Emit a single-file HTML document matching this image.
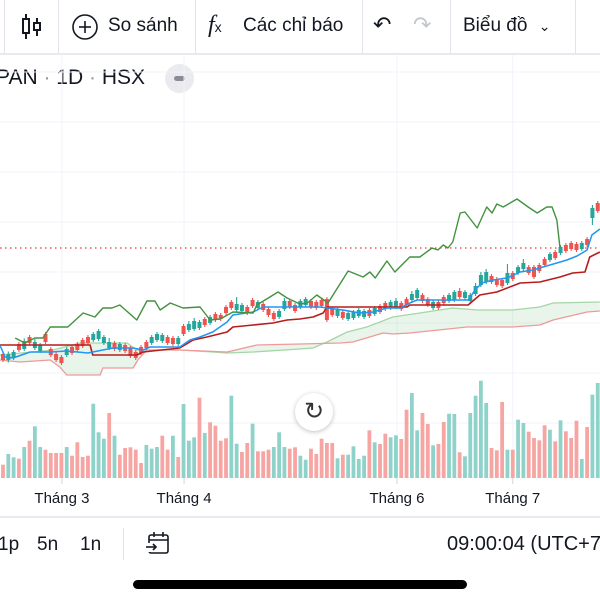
<!DOCTYPE html>
<html><head><meta charset="utf-8">
<style>
body{margin:0;width:600px;height:600px;overflow:hidden;background:#fff;font-family:"Liberation Sans",sans-serif;color:#131722;position:relative}
.abs{position:absolute}
.tb{position:absolute;font-size:19px;top:15px;white-space:nowrap}
.sep{position:absolute;width:1px;background:#e0e3eb}
</style></head><body>
<div class="abs" style="left:0;top:0;width:600px;height:53px;border-bottom:2px solid #e8eaef">
  <div class="sep" style="left:4px;top:0;height:53px"></div>
  <div class="sep" style="left:58px;top:0;height:53px"></div>
  <div class="sep" style="left:195px;top:0;height:53px"></div>
  <div class="sep" style="left:362px;top:0;height:53px"></div>
  <div class="sep" style="left:450px;top:0;height:53px"></div>
  <div class="sep" style="left:575px;top:0;height:53px"></div>
  <svg class="abs" style="left:18px;top:12px" width="28" height="30" viewBox="0 0 28 30">
    <line x1="8" y1="2" x2="8" y2="27" stroke="#131722" stroke-width="2"/><rect x="5" y="7" width="6" height="14" fill="#fff" stroke="#131722" stroke-width="2"/>
    <line x1="19" y1="6" x2="19" y2="24" stroke="#131722" stroke-width="2"/><rect x="16" y="11" width="6" height="7" fill="#fff" stroke="#131722" stroke-width="2"/>
  </svg>
  <svg class="abs" style="left:71px;top:13px" width="28" height="28"><circle cx="14" cy="14" r="12" fill="none" stroke="#131722" stroke-width="1.6"/><line x1="14" y1="8" x2="14" y2="20" stroke="#131722" stroke-width="1.6"/><line x1="8" y1="14" x2="20" y2="14" stroke="#131722" stroke-width="1.6"/></svg>
  <div class="tb" style="left:108px">So sánh</div>
  <div class="tb" style="left:208px;top:12px;font-family:'Liberation Serif',serif;font-style:italic;font-size:24px">f<span style="font-size:14px;font-style:normal;font-family:'Liberation Sans'">x</span></div>
  <div class="tb" style="left:243px">Các chỉ báo</div>
  <div class="tb" style="left:373px;top:12px;font-size:22px">↶</div>
  <div class="tb" style="left:413px;top:12px;font-size:22px;color:#c4c7cf">↷</div>
  <div class="tb" style="left:463px">Biểu đồ <span style="font-size:14px;margin-left:6px">⌄</span></div>
</div>
<div class="abs" style="left:-4px;top:66px;font-size:21px;white-space:nowrap">PAN <span style="color:#999">·</span> 1D <span style="color:#999">·</span> HSX</div>
<div class="abs" style="left:165px;top:64px;width:29px;height:29px;border-radius:50%;background:#ebebef"><div style="position:absolute;left:9px;top:12px;width:11px;height:5px;border-radius:3px;background:#8a8d96"></div></div>

<svg class="abs" style="left:0;top:0" width="600" height="600" id="chart"></svg>

<div class="abs" style="left:295px;top:393px;width:38px;height:38px;border-radius:50%;background:#fff;box-shadow:0 1px 5px rgba(0,0,0,.25);text-align:center;line-height:38px;font-size:24px;color:#333">↻</div>

<div class="abs" style="left:0;top:516px;width:600px;height:2px;background:#e8eaef"></div>
<div class="abs" style="left:-2px;top:534px;font-size:19px">1p</div>
<div class="abs" style="left:37px;top:534px;font-size:19px">5n</div>
<div class="abs" style="left:80px;top:534px;font-size:19px">1n</div>
<div class="sep" style="left:123px;top:528px;height:32px"></div>
<svg class="abs" style="left:145px;top:531px" width="26" height="26"><rect x="4" y="4" width="19" height="18" rx="2" fill="none" stroke="#131722" stroke-width="1.6"/><line x1="4" y1="9" x2="23" y2="9" stroke="#131722" stroke-width="1.6"/><line x1="9" y1="1" x2="9" y2="6" stroke="#131722" stroke-width="1.6"/><line x1="18" y1="1" x2="18" y2="6" stroke="#131722" stroke-width="1.6"/><rect x="0" y="12" width="8" height="9" fill="#fff"/><line x1="1" y1="16" x2="11" y2="16" stroke="#131722" stroke-width="1.6"/><polyline points="8,13 11,16 8,19" fill="none" stroke="#131722" stroke-width="1.6"/></svg>
<div class="abs" style="left:447px;top:533px;font-size:20px;white-space:nowrap">09:00:04 (UTC+7)</div>
<div class="abs" style="left:133px;top:580px;width:334px;height:9px;border-radius:5px;background:#000"></div>

<script>
const opens=[29.2,28.0,28.4,31.2,30.2,32.6,30.4,29.8,33.2,30.2,29.2,28.6,29.0,30.6,31.2,32.0,32.6,32.0,32.2,31.4,30.4,31.4,30.0,31.0,30.4,29.6,30.6,31.6,31.4,32.0,31.8,32.6,32.4,31.2,34.8,34.0,34.2,34.4,36.2,35.4,37.2,37.0,38.6,39.6,38.0,37.8,38.6,40.0,38.4,39.2,38.2,37.4,36.6,38.2,39.8,39.0,38.6,39.0,39.8,39.6,40.0,40.2,38.2,36.8,37.6,36.2,36.4,36.8,36.6,38.0,37.2,38.8,39.4,38.4,38.6,39.4,40.2,40.0,40.4,41.0,40.2,38.4,39.6,40.6,39.8,40.0,41.8,40.4,39.8,41.2,43.0,43.6,44.8,44.2,44.0,43.4,45.4,45.4,46.2,46.6,46.6,47.0,48.2,48.0,49.6,49.4,51.0,51.4,51.2,50.2,52.2,56.4,59.4];
const closes=[28.0,29.2,29.6,30.0,31.8,31.4,31.6,31.0,31.6,29.0,28.0,27.4,30.2,29.4,30.0,30.8,31.4,33.2,33.8,32.6,31.6,30.2,31.2,29.8,28.8,28.4,29.4,30.4,32.6,33.2,33.0,31.4,31.2,32.4,33.2,35.2,35.8,35.6,35.0,36.6,36.0,36.2,37.4,38.4,39.2,39.0,37.4,38.8,39.6,38.0,37.0,36.2,37.8,39.8,38.6,37.8,39.8,40.2,38.6,38.4,38.8,36.0,37.0,38.0,36.4,37.4,37.6,38.0,37.8,36.8,38.4,37.6,38.2,39.6,39.8,38.2,39.0,41.2,42.0,39.8,39.0,39.6,38.4,39.4,41.0,41.6,40.6,41.6,41.0,42.8,45.0,45.6,43.6,43.0,42.8,45.4,44.2,46.6,47.4,45.4,44.6,45.8,47.0,49.2,48.4,50.6,49.8,50.2,50.0,51.4,51.0,58.4,57.8];
const highs=[29.6,29.7,30.0,31.6,32.3,33.0,32.2,31.4,33.6,30.6,29.6,29.0,30.6,31.0,31.6,32.4,33.0,33.6,34.2,33.0,32.4,31.8,31.6,31.4,30.8,30.0,31.0,32.0,33.0,33.6,33.4,33.0,32.8,32.8,35.2,35.8,36.4,36.0,36.6,37.0,37.6,37.4,39.0,40.0,40.6,39.4,39.0,40.4,40.0,39.6,38.6,37.8,38.2,40.4,40.2,39.4,40.2,40.6,40.2,40.0,40.4,40.6,38.6,38.4,38.0,37.8,38.0,38.4,38.2,38.4,38.8,39.2,39.8,40.0,40.4,39.8,40.6,41.8,42.4,41.4,40.6,40.0,40.0,41.0,41.4,42.0,42.4,42.0,41.4,43.4,45.6,46.2,45.2,44.6,44.4,47.2,45.8,47.0,48.2,47.0,47.0,47.4,48.6,49.6,50.0,51.0,51.4,51.8,51.6,51.8,52.6,59.0,59.8];
const lows=[27.6,27.5,28.0,29.6,29.8,31.0,30.0,29.4,31.2,28.6,27.6,27.0,28.6,29.0,29.6,30.4,31.0,31.6,31.8,31.0,30.0,29.8,29.6,29.4,28.4,28.0,29.0,30.0,31.0,31.6,31.4,31.0,30.8,30.8,32.8,33.6,33.8,34.0,34.6,35.0,35.6,35.8,37.0,38.0,37.6,37.4,37.0,38.4,38.0,37.6,36.6,35.8,36.2,37.8,38.2,37.4,38.2,38.6,38.2,38.0,38.4,35.6,36.6,36.4,36.0,35.8,36.0,36.4,36.2,36.4,36.8,37.2,37.8,38.0,38.2,37.8,38.6,39.6,40.0,39.4,38.6,38.0,38.0,39.0,39.4,39.6,40.2,40.0,39.4,40.8,42.6,43.2,43.2,42.6,42.4,43.0,43.8,45.0,45.8,45.0,44.2,45.4,46.6,47.6,48.0,49.0,49.4,49.8,49.6,49.8,50.6,55.0,57.4];
const volumes=[13.3,24,20.7,19.3,31,37.3,51.7,31,28.3,25,25,25,31,22.3,35.7,21,22.3,74.3,45.7,39.3,65,42.3,23.3,30,30.7,28.3,15,33,29.3,31,42.3,28.3,42.3,21,74,37.3,40.7,80.3,45,55.7,52.3,37.3,39.7,82.3,34.3,26,35,54.3,26.7,26.7,28.3,31,45.7,31,29.3,30.7,22.3,18.3,29.3,24,39.3,35,35,19.7,23.3,23.3,31.7,19,22.3,47.7,35.7,34,44.3,40.7,42.7,39,68.3,85,47.7,65,54,32.7,34,56,64.3,64,25.7,21.7,65,82.3,97.3,75,30,27.7,76,28.3,28.3,58.3,55,46.3,40,37.7,52.7,48.3,36.7,57.7,46.7,40,57.3,19,51,83.3,95];
const volUp=[0,1,1,0,1,0,1,1,0,0,0,0,1,0,0,0,0,1,1,1,0,1,0,0,0,0,0,1,1,1,0,0,1,0,1,1,1,0,1,0,0,0,0,1,1,0,0,1,0,0,0,1,1,1,0,0,1,1,0,0,0,0,0,1,0,1,1,1,1,0,1,0,0,1,1,0,0,1,1,0,0,1,0,0,1,1,0,1,1,1,1,1,0,0,0,1,0,1,1,0,0,0,0,1,0,1,0,0,0,1,0,1,1];
const chikouIdx=[2.3,4.1,6,7.5,8.9,12.2,15.1,17.3,18.8,20.5,22,25.2,27.1,28.6,29.6,31.5,33.9,37.1,39,40.9,43.3,47.1,47.8,51.8,53.5,55.9,57.3,59.1,61.2,65,67.8,69.1,70.1,72.3,73.8,76.6,78.5,80.8,81.9,82.9,83.8,84.7,86.1,87,89.3,91.1,92.1,93,94.2,96.8,98.9,100.6,102.4,103.4,104.3,104.9];
const chikouVal=[32.4,31.4,32.4,32.4,34.6,34.6,37.4,36.6,38.4,38.4,39,36,39.8,39.8,38,39.4,38.4,38.6,36,36.2,37.6,37.4,39,41.6,40.4,39.2,39.4,41,39.4,45.8,44.6,45.6,44.4,47.8,45.6,48.6,48.6,50.4,50,51,50.4,51.6,57.4,57.6,54.4,58.6,57.4,59.2,58.6,60.2,58.6,57.4,58.6,58.6,56,50.4];
const tenkanIdx=[-0.6,0.4,1.9,5.1,8.9,12,16,16.9,20.7,24.5,26.4,27.7,33.3,35.2,37.1,39.5,42.2,43.3,47.1,49,59.7,61,64,67.2,69.7,72.3,74.8,76.6,78,87.6,88.9,90.2,92.3,94.9,97.4,99.8,101.7,104.3,106.2,108.1,110,110.9,112.4];
const tenkanVal=[31,28.6,28.4,29.6,29.6,29.8,29.4,29.6,30.4,30.4,30,30.6,30.6,32,32.6,33.6,35.6,37,37.6,38.6,38.6,38.4,38,37.4,37.6,38.4,38.4,39.4,40,40,42,43.4,44,44.4,45.6,46,46.6,47.4,48,48.8,50,53,54.2];
const kijunIdx=[-0.6,16.4,16.9,25.2,26.4,33.3,35.8,38.4,42.2,43.3,47.1,50.8,53.5,55.9,58.4,60.3,61,76.1,76.6,87.6,89.8,93,97.4,101.1,104.9,107.3,109.6,110.5,112.4];
const kijunVal=[31,31,29,29,29.6,30.4,32,32.6,33.6,34.6,35,35.4,36,36.2,36.6,37.4,38.6,38.6,39,39,41,41.6,43.4,43.6,44.6,45.4,45.6,48.6,49.6];
const spanAIdx=[-0.6,9.4,14.5,23.4,25.2,33.3,39.5,42.2,47.1,55.9,58.4,61,64.8,68.5,71,73.4,78.5,84.7,89.3,96,101.1,103.6,112.4];
const spanAVal=[29,30,31.4,31.4,30,30,29.6,29.4,29.6,30.2,30.4,31.6,33.6,34.6,35.6,36.6,37.4,38.4,38,38,38.6,39.4,39.6];
const spanBIdx=[-0.6,3.2,8.9,10.7,12,18.3,18.8,24.5,25.4,27.1,33.3,42.2,47.8,55.9,63.5,65.9,71.6,73.4,76.6,87.4,96,101.1,103.6,110,112.4];
const spanBVal=[28,27.6,28,26.6,25,25,26.4,26.4,28,30,30,29.6,31,31.2,31.4,31.6,33.4,33.2,33.4,34.6,34.6,35,36,37.6,37.8];
const lastPrice=50.4;
const monthLabels=["Tháng 3","Tháng 4","Tháng 6","Tháng 7"];
const monthIdx=[11.1,34.1,74.2,96.0];

const svg=document.getElementById('chart');
const NS='http://www.w3.org/2000/svg';
const xS=i=>3+i*5.31;
const yS=p=>500-5*p;
const vS=v=>478-v;
function mk(tag,attrs){const e=document.createElementNS(NS,tag);for(const k in attrs)e.setAttribute(k,attrs[k]);svg.appendChild(e);return e;}

[72,122,172,222,272,323,373,423].forEach(y=>{const l=mk('line',{x1:0,x2:600,y1:y,y2:y,stroke:'#f0f3fa','stroke-width':1});

});
monthIdx.forEach((m,k)=>{const x=xS(m);
const l=mk('line',{x1:x,x2:x,y1:55,y2:478,stroke:'#f0f3fa','stroke-width':1});


const t=mk('line',{x1:x,x2:x,y1:478,y2:484,stroke:'#d1d4dc','stroke-width':1});


const tx=mk('text',{x:x,y:503,'text-anchor':'middle','font-size':15,fill:'#131722','font-family':'Liberation Sans, sans-serif'});
tx.textContent=monthLabels[k];

});

volumes.forEach((v,i)=>{const r=mk('rect',{x:xS(i)-1.9,y:vS(v),width:3.8,height:v,fill:volUp[i]?'#8fd2c9':'#f6a5a3'});

});

const pts=[];spanAIdx.forEach((i,k)=>pts.push(xS(i)+','+yS(spanAVal[k])));
for(let k=spanBIdx.length-1;k>=0;k--)pts.push(xS(spanBIdx[k])+','+yS(spanBVal[k]));
const cloud=mk('polygon',{points:pts.join(' '),fill:'rgba(76,175,80,0.12)'});


function line(ix,vals,color,w,name){const p=ix.map((i,k)=>xS(i)+','+yS(vals[k])).join(' ');
const l=mk('polyline',{points:p,fill:'none',stroke:color,'stroke-width':w,'stroke-linejoin':'round'});

}
line(spanAIdx,spanAVal,'#a5d6a7',1.3,'senkou-span-a');
line(spanBIdx,spanBVal,'#ef9a9a',1.3,'senkou-span-b');

const lp=mk('line',{x1:0,x2:600,y1:yS(lastPrice),y2:yS(lastPrice),stroke:'#e53935','stroke-width':1.2,'stroke-dasharray':'1.5 3.5'});



opens.forEach((o,i)=>{const c=closes[i];const up=c>=o;const col=up?'#26a69a':'#ef5350';const x=xS(i);
const w=mk('line',{x1:x,x2:x,y1:yS(highs[i]),y2:yS(lows[i]),stroke:col,'stroke-width':1.1});


const top=yS(Math.max(o,c));const h=Math.max(1,yS(Math.min(o,c))-top);
const b=mk('rect',{x:x-2,y:top,width:4,height:h,fill:col});

});

line(kijunIdx,kijunVal,'#b71c1c',1.6,'kijun-sen-line');
line(tenkanIdx,tenkanVal,'#2196f3',1.5,'tenkan-sen-line');
line(chikouIdx,chikouVal,'#43923f',1.4,'chikou-span-line');
</script>
</body></html>
